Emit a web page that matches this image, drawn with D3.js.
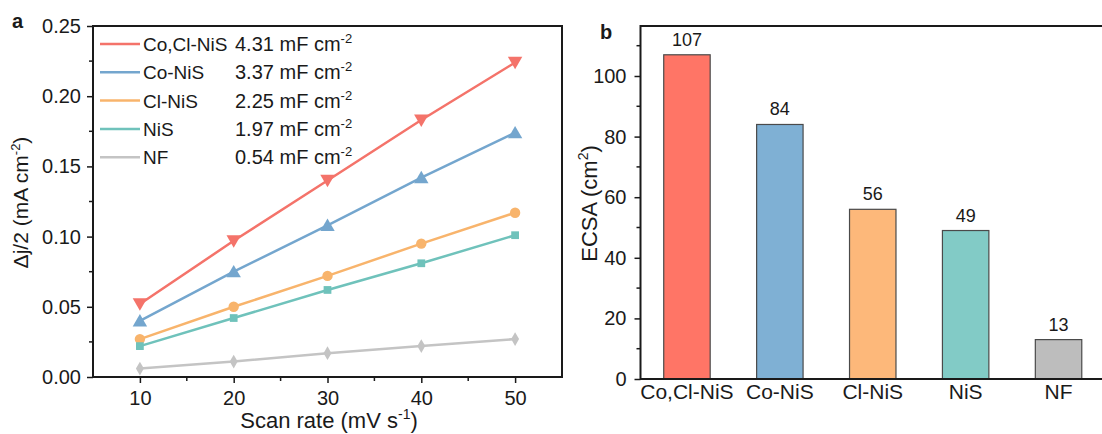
<!DOCTYPE html>
<html>
<head>
<meta charset="utf-8">
<script src="https://cdn.jsdelivr.net/npm/d3@7"></script>
<style>
  html, body { margin: 0; padding: 0; background: #fff; }
  svg { display: block; font-family: "Liberation Sans", Arial, sans-serif; }
</style>
</head>
<body>
<svg id="chart" width="1102" height="434"></svg>
<script>
// Scan rates (mV s^-1)
const scanRates = [10, 20, 30, 40, 50];
// Samples
const samples = ["Co,Cl-NiS", "Co-NiS", "Cl-NiS", "NiS", "NF"];
// Half current-density difference Δj/2 (mA cm^-2) per sample
const jCoClNiS = [0.052, 0.097, 0.140, 0.183, 0.224];
const jCoNiS   = [0.040, 0.075, 0.108, 0.142, 0.174];
const jClNiS   = [0.027, 0.050, 0.072, 0.095, 0.117];
const jNiS     = [0.022, 0.042, 0.062, 0.081, 0.101];
const jNF      = [0.006, 0.011, 0.017, 0.022, 0.027];
// Double-layer capacitance (mF cm^-2)
const cdl = ["4.31", "3.37", "2.25", "1.97", "0.54"];
// Electrochemically active surface area (cm^2)
const ecsa = [107, 84, 56, 49, 13];
// Tick values
const leftYTicks = [0, 0.05, 0.10, 0.15, 0.20, 0.25];
const leftXTicks = [10, 20, 30, 40, 50];
const rightYTicks = [0, 20, 40, 60, 80, 100];

const lineColors = ["#F4736A", "#74A6CE", "#F8B46C", "#6FC2BB", "#C4C4C4"];
const barColors  = ["#FF7566", "#7FB0D4", "#FDB87A", "#82CBC6", "#BDBDBD"];
const symbols = [d3.symbolTriangle, d3.symbolTriangle, d3.symbolCircle, d3.symbolSquare, d3.symbolDiamond];
const symbolSizes = [90, 90, 85, 60, 55];
const symbolRot = [180, 0, 0, 0, 0];
const seriesValues = [jCoClNiS, jCoNiS, jClNiS, jNiS, jNF];

const svg = d3.select("#chart");
const ink = "#1a1a1a";

function styleAxis(ax, size) {
  ax.select(".domain").remove();
  ax.selectAll(".tick line").attr("stroke", ink).attr("stroke-width", 1.5);
  ax.selectAll(".tick text").attr("fill", ink).style("font-size", size + "px")
    .style("font-family", "Liberation Sans, Arial, sans-serif");
}

// ---------- Panel a ----------
const A = { left: 93, right: 562, top: 26, bottom: 377 };
const xA = d3.scaleLinear().domain([5, 55]).range([A.left, A.right]);
const yA = d3.scaleLinear().domain([0, 0.25]).range([A.bottom, A.top]);

const gA = svg.append("g");

// frame
gA.append("rect").attr("x", A.left).attr("y", A.top)
  .attr("width", A.right - A.left).attr("height", A.bottom - A.top)
  .attr("fill", "none").attr("stroke", ink).attr("stroke-width", 2);

// minor ticks
const xMinorA = d3.range(15, 55, 10);
gA.append("g").selectAll("line").data(xMinorA).join("line")
  .attr("x1", d => xA(d)).attr("x2", d => xA(d))
  .attr("y1", A.bottom).attr("y2", A.bottom + 4)
  .attr("stroke", ink).attr("stroke-width", 1.5);
const yMinorA = d3.range(0.025, 0.25, 0.05);
gA.append("g").selectAll("line").data(yMinorA).join("line")
  .attr("x1", A.left - 4).attr("x2", A.left)
  .attr("y1", d => yA(d)).attr("y2", d => yA(d))
  .attr("stroke", ink).attr("stroke-width", 1.5);

styleAxis(gA.append("g").attr("transform", `translate(0,${A.bottom})`)
  .call(d3.axisBottom(xA).tickValues(leftXTicks).tickSize(6).tickPadding(8).tickFormat(d3.format("d"))), 20);
styleAxis(gA.append("g").attr("transform", `translate(${A.left},0)`)
  .call(d3.axisLeft(yA).tickValues(leftYTicks).tickSize(6).tickPadding(6).tickFormat(d3.format(".2f"))), 20);

// series lines and markers
const lineGen = d3.line().x((d, i) => xA(scanRates[i])).y(d => yA(d));
seriesValues.forEach((vals, s) => {
  gA.append("path").datum(vals).attr("d", lineGen)
    .attr("fill", "none").attr("stroke", lineColors[s]).attr("stroke-width", 2.5);
  const sym = d3.symbol().type(symbols[s]).size(symbolSizes[s]);
  gA.append("g").selectAll("path").data(vals).join("path")
    .attr("d", sym)
    .attr("transform", (d, i) => `translate(${xA(scanRates[i])},${yA(d) + (s === 0 ? -1.5 : (s === 1 ? 1.5 : 0))}) rotate(${symbolRot[s]})`)
    .attr("fill", lineColors[s]);
});

// legend
const leg = gA.append("g");
const legY0 = 44, legDy = 28.3;
samples.forEach((name, i) => {
  const y = legY0 + i * legDy;
  leg.append("line").attr("x1", 100).attr("x2", 140).attr("y1", y).attr("y2", y)
    .attr("stroke", lineColors[i]).attr("stroke-width", 2.5);
  leg.append("text").attr("x", 143).attr("y", y + 7).attr("fill", ink)
    .style("font-size", "19px").text(name);
  const t = leg.append("text").attr("x", 235).attr("y", y + 7).attr("fill", ink).style("font-size", "20px");
  t.append("tspan").text(cdl[i] + " mF cm");
  t.append("tspan").attr("dy", -8).style("font-size", "13px").text("-2");
});

// axis titles
svg.append("text").attr("x", 329).attr("y", 428).attr("text-anchor", "middle")
  .attr("fill", ink).style("font-size", "22px")
  .call(t => {
    t.append("tspan").text("Scan rate (mV s");
    t.append("tspan").attr("dy", -9).style("font-size", "14px").text("-1");
    t.append("tspan").attr("dy", 9).text(")");
  });
svg.append("text").attr("transform", `translate(28,${(A.top + A.bottom) / 2 + 1}) rotate(-90)`)
  .attr("text-anchor", "middle").attr("fill", ink).style("font-size", "21px")
  .call(t => {
    t.append("tspan").text("\u0394j/2 (mA cm");
    t.append("tspan").attr("dy", -8).style("font-size", "13px").text("-2");
    t.append("tspan").attr("dy", 8).text(")");
  });
svg.append("text").attr("x", 12).attr("y", 28).attr("fill", ink)
  .style("font-size", "20px").style("font-weight", "bold").text("a");

// ---------- Panel b ----------
const B = { left: 640.5, right: 1105, top: 26, bottom: 379 };
const xB = d3.scaleBand().domain(samples).range([B.left, B.right])
  .paddingInner(0.5).paddingOuter(0.25);
const yB = d3.scaleLinear().domain([0, 116.5]).range([B.bottom, B.top]);

const gB = svg.append("g");
gB.selectAll("rect.bar").data(ecsa).join("rect").attr("class", "bar")
  .attr("x", (d, i) => xB(samples[i])).attr("width", xB.bandwidth())
  .attr("y", d => yB(d)).attr("height", d => yB(0) - yB(d))
  .attr("fill", (d, i) => barColors[i]).attr("stroke", "#4a4a4a").attr("stroke-width", 1.2);

gB.selectAll("text.val").data(ecsa).join("text").attr("class", "val")
  .attr("x", (d, i) => xB(samples[i]) + xB.bandwidth() / 2).attr("y", d => yB(d) - 9)
  .attr("text-anchor", "middle").attr("fill", ink).style("font-size", "18px").text(d => d);

// frame (right edge runs past the page)
gB.append("path")
  .attr("d", `M${B.right},${B.top}H${B.left}V${B.bottom}H${B.right}`)
  .attr("fill", "none").attr("stroke", ink).attr("stroke-width", 2);

const yMinorB = d3.range(10, 116, 20);
gB.append("g").selectAll("line").data(yMinorB).join("line")
  .attr("x1", B.left - 4).attr("x2", B.left)
  .attr("y1", d => yB(d)).attr("y2", d => yB(d))
  .attr("stroke", ink).attr("stroke-width", 1.5);

styleAxis(gB.append("g").attr("transform", `translate(${B.left},0)`)
  .call(d3.axisLeft(yB).tickValues(rightYTicks).tickSize(6).tickPadding(8)), 20);
styleAxis(gB.append("g").attr("transform", `translate(0,${B.bottom})`)
  .call(d3.axisBottom(xB).tickSize(0).tickPadding(5)), 21);

svg.append("text").attr("transform", `translate(597,${(B.top + B.bottom) / 2 + 1}) rotate(-90)`)
  .attr("text-anchor", "middle").attr("fill", ink).style("font-size", "22px")
  .call(t => {
    t.append("tspan").text("ECSA (cm");
    t.append("tspan").attr("dy", -9).style("font-size", "14px").text("2");
    t.append("tspan").attr("dy", 9).text(")");
  });
svg.append("text").attr("x", 600).attr("y", 39).attr("fill", ink)
  .style("font-size", "20px").style("font-weight", "bold").text("b");
</script>
</body>
</html>
